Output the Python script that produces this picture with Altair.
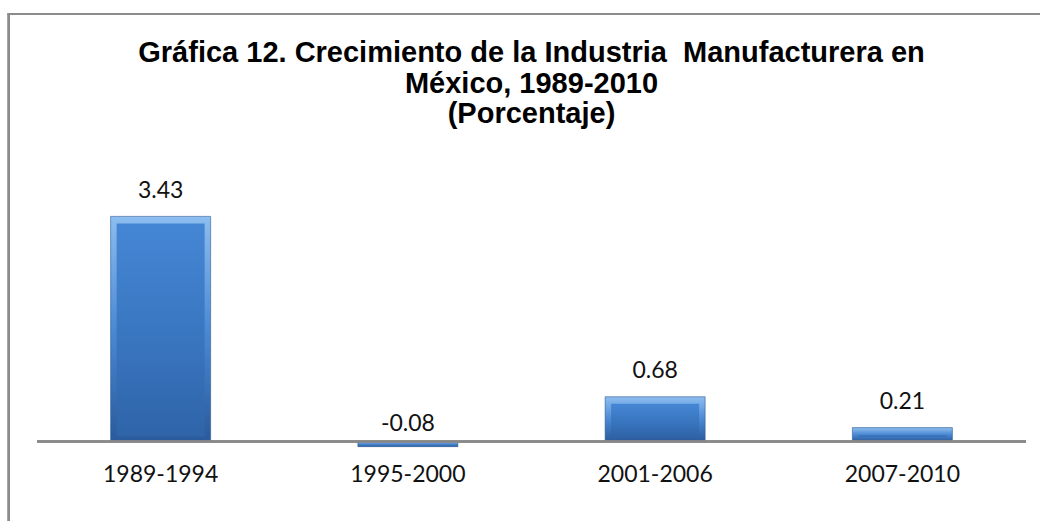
import altair as alt
import pandas as pd

periodos = ["1989-1994", "1995-2000", "2001-2006", "2007-2010"]
valores = [3.43, -0.08, 0.68, 0.21]
titulo = [
    "Gráfica 12. Crecimiento de la Industria\u00a0 Manufacturera en",
    "México, 1989-2010",
    "(Porcentaje)",
]

df = pd.DataFrame({"periodo": periodos, "valor": valores})
df["etiqueta"] = df["valor"].map(lambda v: f"{v:.2f}")
df["cero"] = 0.0

W = 989
H = 275.5
y_scale = alt.Scale(domain=[-0.2, 4.0], nice=False, zero=False)

x_enc = alt.X(
    "periodo:N",
    sort=periodos,
    scale=alt.Scale(paddingInner=0, paddingOuter=0),
    axis=alt.Axis(
        title=None,
        labelAngle=0,
        domain=False,
        ticks=False,
        labelFont="Lato",
        labelFontSize=23,
        labelColor="#111111",
        labelPadding=9,
    ),
)
y_enc = alt.Y("valor:Q", scale=y_scale, axis=None)
y_cero = alt.Y("cero:Q", scale=y_scale, axis=None)

outer_grad = {
    "gradient": "linear",
    "x1": 0, "y1": 0, "x2": 0, "y2": 1,
    "stops": [
        {"offset": 0, "color": "#8DBDF0"},
        {"offset": 0.5, "color": "#4C89D3"},
        {"offset": 1, "color": "#2A5A9B"},
    ],
}
inner_grad = {
    "gradient": "linear",
    "x1": 0, "y1": 0, "x2": 0, "y2": 1,
    "stops": [
        {"offset": 0, "color": "#4586D4"},
        {"offset": 0.5, "color": "#3A77C2"},
        {"offset": 1, "color": "#2F64A8"},
    ],
}

base = alt.Chart(df)

bars_outer = base.mark_bar(
    size=100, color=outer_grad, stroke="#2B5A96", strokeWidth=0.6
).encode(x=x_enc, y=y_enc, y2="cero:Q")

bars_inner = base.transform_filter("datum.valor > 0").mark_bar(
    size=88, color=inner_grad, yOffset=7, y2Offset=-5
).encode(x=x_enc, y=y_enc, y2="cero:Q")

zero_line = base.mark_rule(color="#878787", strokeWidth=2).encode(y=y_cero)

labels_pos = base.transform_filter("datum.valor >= 0").mark_text(
    font="Lato", fontSize=23, color="#111111", baseline="alphabetic", dy=-18.5
).encode(x=x_enc, y=y_enc, text="etiqueta:N")

labels_neg = base.transform_filter("datum.valor < 0").mark_text(
    font="Lato", fontSize=23, color="#111111", baseline="alphabetic", dy=-10
).encode(x=x_enc, y=y_cero, text="etiqueta:N")

frame_left = base.mark_rule(color="#8C8C8C", strokeWidth=2).encode(
    x=alt.value(-28.3), y=alt.value(-165), y2=alt.value(400)
)
frame_top = base.mark_rule(color="#8C8C8C", strokeWidth=2).encode(
    y=alt.value(-165), x=alt.value(-29.3), x2=alt.value(1010)
)

title_text = alt.Chart(pd.DataFrame({"k": [0]})).mark_text(
    text=titulo,
    font="Liberation Sans",
    fontSize=29,
    fontWeight="bold",
    color="#000000",
    align="center",
    baseline="alphabetic",
    lineHeight=30.5,
).encode(x=alt.value(494.5), y=alt.value(-117))

chart = (
    alt.layer(frame_left, frame_top, bars_outer, bars_inner, zero_line,
              labels_pos, labels_neg, title_text)
    .properties(
        width=W,
        height=H,
        padding={"left": 37, "top": 179, "right": 14, "bottom": 66.5},
        autosize=alt.AutoSizeParams(type="none"),
        background="white",
    )
    .configure_view(stroke=None)
)

chart.save("out.html", embed_options={"renderer": "svg", "actions": False})
